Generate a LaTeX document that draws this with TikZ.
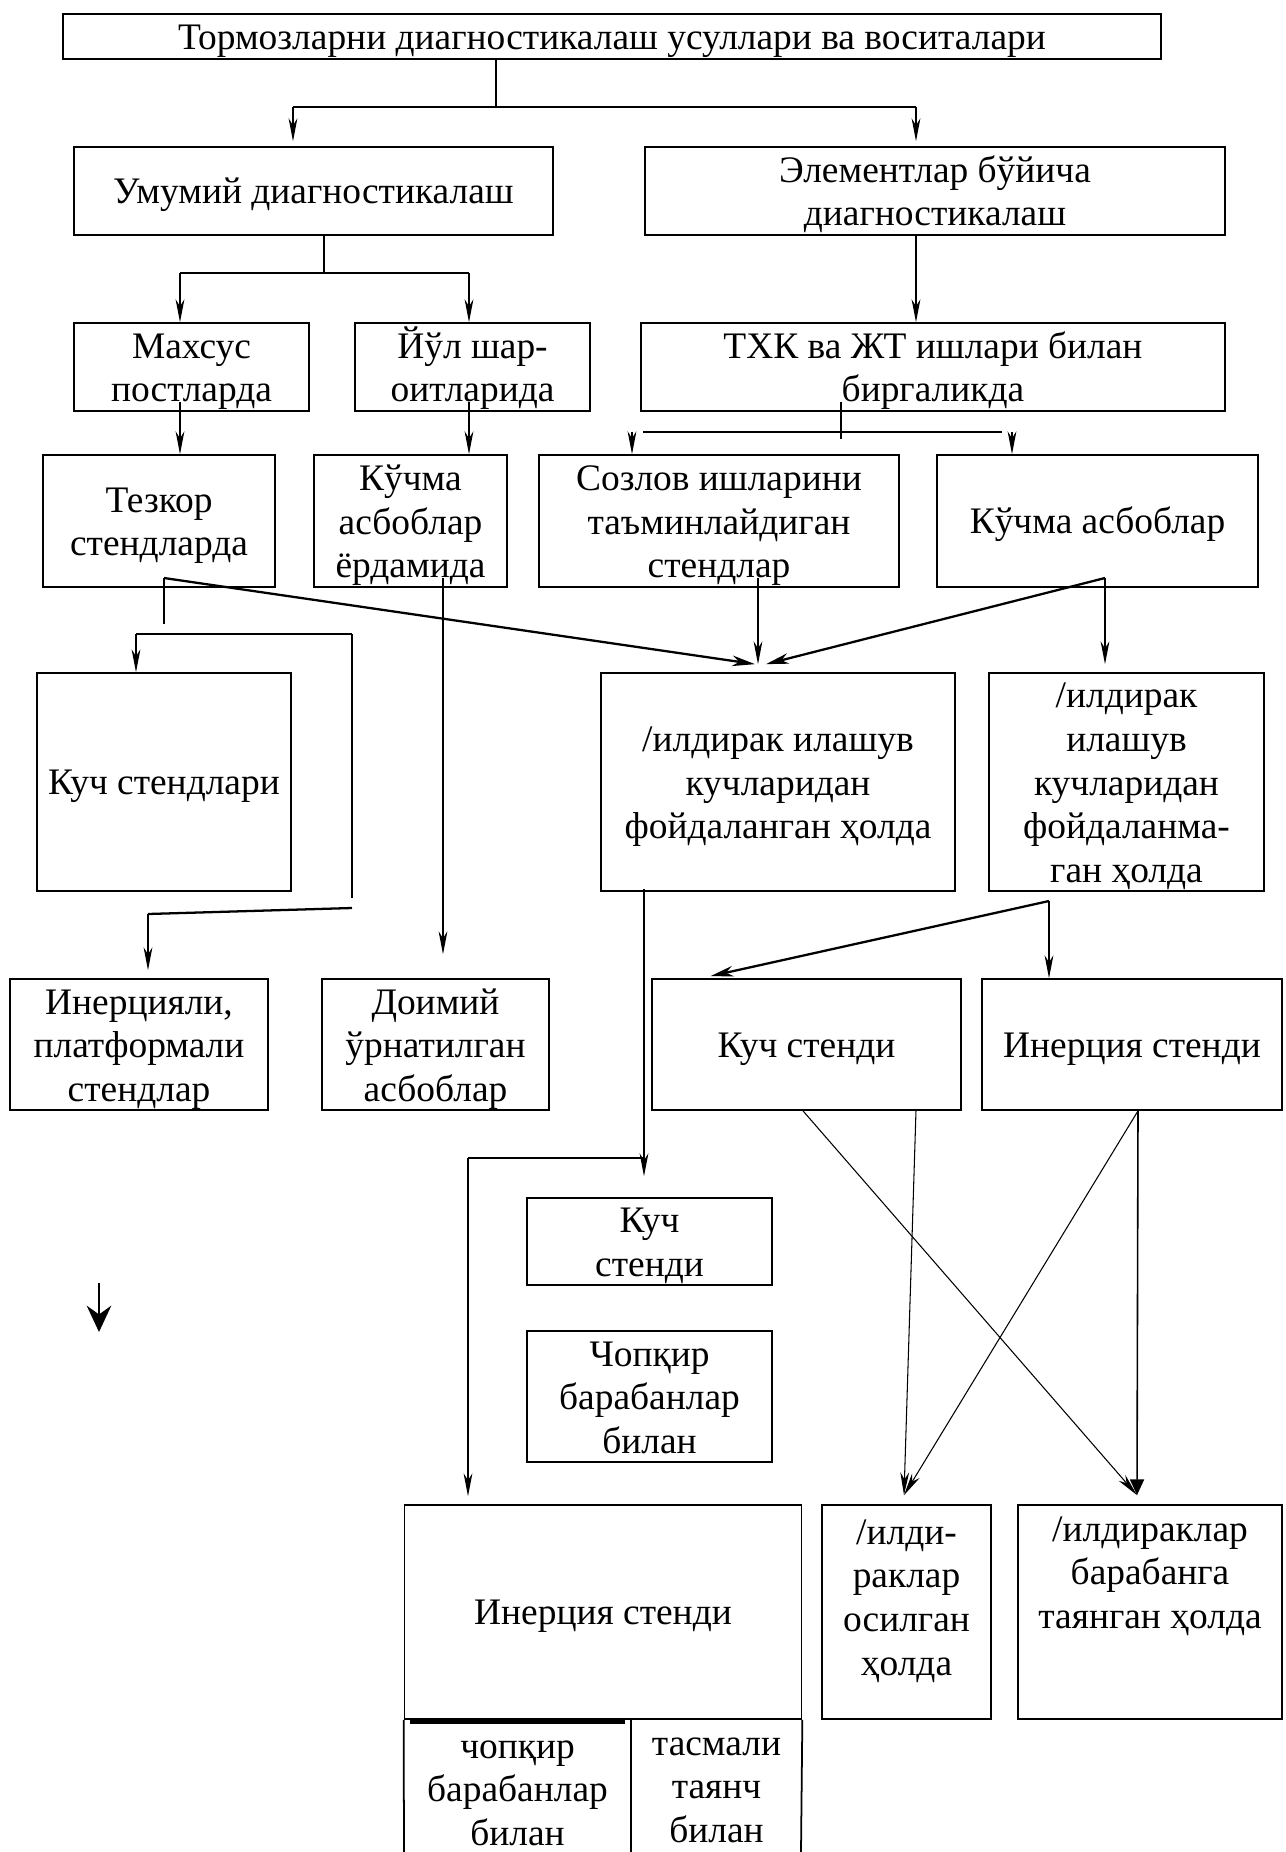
\documentclass[tikz,border=0pt]{standalone}
\usepackage{fontspec}
\setmainfont{Liberation Serif}
\usetikzlibrary{arrows.meta,positioning,calc}
\newcommand{\firstln}{\rule{0pt}{0.92em}}

\begin{document}
\begin{tikzpicture}[x=0.02cm, y=-0.02cm,
    font=\fontsize{21.3}{24.8}\selectfont,
    box/.style={draw, line width=1pt, align=center, inner xsep=1pt, inner ysep=0pt,
      execute at begin node={\rule{0pt}{0.9em}},
      execute at end node={\rule[-0.22em]{0pt}{0.22em}}},
    txt/.style={align=center, inner sep=0pt},
    ln/.style={line width=0.6pt},
    thk/.style={line width=1.3pt},
    arr/.style={ln, -{Stealth[length=13pt, width=5pt, inset=4pt]}},
    tarr/.style={thk, -{Stealth[length=13pt, width=6pt, inset=4pt]}},
    farr/.style={line width=0.9pt, -{Triangle[length=9pt, width=8pt]}}]
  \useasboundingbox (0,0) rectangle (1285,1852);

  % boxes, row by row
  \node[box, minimum width=21.96cm, minimum height=0.9cm] (top) at (612,36.5) {Тормозларни диагностикалаш усуллари ва воситалари};
  \node[box, minimum width=9.58cm, minimum height=1.76cm] (umumiy) at (313.5,191) {Умумий диагностикалаш};
  \node[box, minimum width=11.6cm, minimum height=1.76cm] (element) at (935,191) {\firstln Элементлар бўйича\\диагностикалаш};
  \node[box, minimum width=4.7cm, minimum height=1.76cm] (maxsus) at (191.5,367) {\firstln Махсус\\постларда};
  \node[box, minimum width=4.7cm, minimum height=1.76cm] (yul) at (472.5,367) {\firstln Йўл шар-\\оитларида};
  \node[box, minimum width=11.68cm, minimum height=1.76cm] (txk) at (933,367) {\firstln ТХК ва ЖТ ишлари билан\\биргаликда};
  \node[box, minimum width=4.64cm, minimum height=2.64cm] (tezkor) at (159,521) {\firstln Тезкор\\стендларда};
  \node[box, minimum width=3.86cm, minimum height=2.64cm] (kuchmaA) at (410.5,521) {\firstln Кўчма\\асбоблар\\ёрдамида};
  \node[box, minimum width=7.2cm, minimum height=2.64cm] (sozlov) at (719,521) {\firstln Созлов ишларини\\таъминлайдиган\\стендлар};
  \node[box, minimum width=6.42cm, minimum height=2.64cm] (kuchmaB) at (1097.5,521) {Кўчма асбоблар};
  \node[box, minimum width=5.08cm, minimum height=4.36cm] (kuchst) at (164,782) {Куч стендлари};
  \node[box, minimum width=7.08cm, minimum height=4.36cm] (gildA) at (778,782) {\firstln /илдирак илашув\\кучларидан\\фойдаланган ҳолда};
  \node[box, minimum width=5.5cm, minimum height=4.36cm] (gildB) at (1126.5,782) {\firstln /илдирак\\илашув\\кучларидан\\фойдаланма-\\ган ҳолда};
  \node[box, minimum width=5.16cm, minimum height=2.62cm] (inerli) at (139,1044.5) {\firstln Инерцияли,\\платформали\\стендлар};
  \node[box, minimum width=4.54cm, minimum height=2.62cm] (doimiy) at (435.5,1044.5) {\firstln Доимий\\ўрнатилган\\асбоблар};
  \node[box, minimum width=6.18cm, minimum height=2.62cm] (kuchsd) at (806.5,1044.5) {Куч стенди};
  \node[box, minimum width=6cm, minimum height=2.62cm] (inersd) at (1132,1044.5) {Инерция стенди};
  \node[box, minimum width=4.9cm, minimum height=1.74cm] (kuchsm) at (649.5,1241.5) {\firstln Куч\\стенди};
  \node[box, minimum width=4.9cm, minimum height=2.62cm] (chopk) at (649.5,1396.5) {\firstln Чопқир\\барабанлар\\билан};
  \node[box, minimum width=7.94cm, minimum height=4.28cm] (inerbig) at (603,1612) {Инерция стенди};
  \node[box, minimum width=3.38cm, minimum height=4.28cm] (osil) at (906.5,1612) {};
  \node[box, minimum width=5.28cm, minimum height=4.28cm] (tayan) at (1150,1612) {};
  \node[txt] (osilT) at (906.5,1601) {/илди-\\раклар\\осилган\\ҳолда};
  \node[txt] (tayanT) at (1150,1576) {/илдираклар\\барабанга\\таянган ҳолда};

  % open cells under the inertia stand
  \coordinate (bl) at (404,1852);
  \coordinate (bm) at (631,1852);
  \coordinate (br) at (801,1852);
  \draw[line width=1pt] (inerbig.south west) -- (bl);
  \draw[line width=1pt] (inerbig.south -| bm) -- (bm);
  \draw[line width=1pt] (inerbig.south east) -- (br);
  \draw[line width=2pt] (410,1722) -- (625,1722);
  \node[txt] (chopT) at (517.5,1793) {чопқир\\барабанлар\\билан};
  \node[txt] (tasmaT) at (716.5,1790) {тасмали\\таянч\\билан};

  % top split
  \coordinate (t1) at (496,107);
  \coordinate (t1l) at (293,107);
  \coordinate (t1r) at (916,107);
  \draw[ln] (top.south -| t1) -- (t1);
  \draw[thk] (t1l) -- (t1r);
  \draw[arr, shorten >=0.1cm] (t1l) -- (umumiy.north -| t1l);
  \draw[arr, shorten >=0.1cm] (t1r) -- (element.north -| t1r);

  % general diagnosis
  \coordinate (u1) at (324,273);
  \coordinate (u1l) at (180,273);
  \coordinate (u1r) at (469,273);
  \draw[ln] (umumiy.south -| u1) -- (u1);
  \draw[thk] (u1l) -- (u1r);
  \draw[arr] (u1l) -- (maxsus.north -| u1l);
  \draw[arr] (u1r) -- (yul.north -| u1r);
  \draw[arr] (element.south -| t1r) -- (txk.north -| t1r);
  \coordinate (m1) at (180,402);
  \coordinate (y1) at (469,402);
  \draw[arr] (m1) -- (tezkor.north -| m1);
  \draw[arr] (y1) -- (kuchmaA.north -| y1);

  % TXK split
  \coordinate (x0) at (841,402);
  \coordinate (x1) at (841,439);
  \coordinate (x1l) at (643,432);
  \coordinate (x1r) at (1002,432);
  \coordinate (x2l) at (632,432);
  \coordinate (x2r) at (1012,432);
  \draw[ln] (x0) -- (x1);
  \draw[thk] (x1l) -- (x1r);
  \draw[arr] (x2l) -- (sozlov.north -| x2l);
  \draw[arr] (x2r) -- (kuchmaB.north -| x2r);

  % from Тезкор
  \coordinate (z0) at (164,578);
  \coordinate (z1) at (164,624);
  \coordinate (z2l) at (136,634);
  \coordinate (z2r) at (352,634);
  \coordinate (z3) at (352,898);
  \coordinate (z4) at (352,908);
  \coordinate (z5) at (148,914);
  \draw[ln] (z0) -- (z1);
  \draw[tarr] (z0) -- ([xshift=-0.46cm, yshift=0.16cm]gildA.north);
  \draw[thk] (z2l) -- (z2r);
  \draw[ln] (z2r) -- (z3);
  \draw[arr] (z2l) -- (kuchst.north -| z2l);
  \draw[thk] (z4) -- (z5);
  \draw[arr, shorten >=0.16cm] (z5) -- (inerli.north -| z5);

  % from the portable devices and stands
  \coordinate (k0) at (443,578);
  \draw[arr, shorten >=0.48cm] (k0) -- (doimiy.north -| k0);
  \coordinate (s0) at (758,578);
  \draw[arr, shorten >=0.16cm] (s0) -- (gildA.north -| s0);
  \coordinate (b0) at (1105,578);
  \draw[tarr] (b0) -- ([xshift=-0.24cm, yshift=0.16cm]gildA.north);
  \draw[arr, shorten >=0.16cm] (b0) -- (gildB.north -| b0);

  % wheel grip
  \coordinate (g0) at (1049,901);
  \draw[tarr] (g0) -- ([xshift=-1.92cm, yshift=0.04cm]kuchsd.north);
  \draw[arr] (g0) -- (inersd.north -| g0);
  \coordinate (a0) at (644,889);
  \coordinate (a2) at (644,1158);
  \coordinate (a3) at (468,1158);
  \draw[arr, shorten >=0.42cm] (a0) -- (kuchsm.north -| a0);
  \draw[thk] (a2) -- (a3);
  \draw[arr, shorten >=0.16cm] (a3) -- (inerbig.north -| a3);

  % crossing lines
  \draw[arr] ([xshift=-0.07cm]kuchsd.south) -- ([xshift=-0.26cm, yshift=0.18cm]tayan.north);
  \draw[arr] ([xshift=2.19cm]kuchsd.south) -- ([xshift=-0.05cm, yshift=0.18cm]osil.north);
  \draw[arr] ([xshift=0.12cm]inersd.south) -- ([xshift=-0.05cm, yshift=0.18cm]osil.north);
  \draw[farr] ([xshift=0.12cm]inersd.south) -- ([xshift=-0.26cm, yshift=0.18cm]tayan.north);

  % lone arrow
  \coordinate (p0) at (99,1283);
  \coordinate (p1) at (99,1332);
  \draw[line width=0.9pt, -{Stealth[length=15pt, width=14pt, inset=5pt]}] (p0) -- (p1);
\end{tikzpicture}
\end{document}
